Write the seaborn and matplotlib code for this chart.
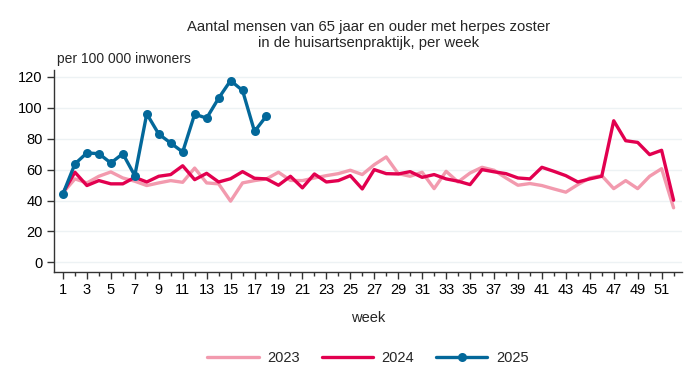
import pandas as pd
import matplotlib.pyplot as plt
import seaborn as sns
from matplotlib.ticker import MultipleLocator

weeks = list(range(1, 53))
vals_2023 = [45, 54, 51.4, 55.7, 58.5, 54.6, 52.5, 49.7, 51.4, 52.9,
             51.8, 61, 51.4, 50.8, 39.6, 51.4, 52.9, 54, 58.3, 53,
             52.9, 54.6, 56.1, 57.4, 59.6, 56.8, 63.2, 68.2, 57.4, 55.7,
             58.3, 47.7, 58.9, 52, 57.8, 61.5, 59.6, 54.6, 49.9, 51,
             49.7, 47.5, 45.4, 50.3, 54.6, 56.1, 47.7, 52.9, 47.7, 55.7,
             60.6, 35.3]
vals_2024 = [45, 58.3, 49.7, 52.9, 50.8, 50.8, 55, 52, 55.7, 56.8,
             62.5, 53.5, 57.6, 52, 54.1, 58.7, 54.4, 54, 49.9, 55.7,
             48.2, 57.2, 52, 52.9, 56.1, 47.5, 60, 57.4, 57.2, 58.7,
             55, 56.8, 54, 52.5, 50.3, 60, 58.6, 57.4, 54.6, 54,
             61.5, 58.9, 56.1, 52, 54, 55.7, 91.6, 78.7, 77.6, 69.7,
             72.5, 40.2]
vals_2025 = [44.3, 63.7, 70.8, 70.3, 64.3, 70.3, 56.1, 96.1, 83, 77.2,
             71.4, 95.9, 93.3, 106.2, 117.6, 111.2, 84.7, 94.8]

colors = {"2023": "#F29AAE", "2024": "#E2004F", "2025": "#03689A"}

df23 = pd.DataFrame({"week": weeks, "value": vals_2023})
df24 = pd.DataFrame({"week": weeks, "value": vals_2024})
df25 = pd.DataFrame({"week": weeks[:len(vals_2025)], "value": vals_2025})

sns.set_style("ticks")
plt.rcParams["font.family"] = ["Liberation Sans", "DejaVu Sans"]

fig = plt.figure(figsize=(6.92, 3.78), dpi=100)
ax = fig.add_axes([0.078, 0.281, 0.9075, 0.534])

sns.lineplot(data=df23, x="week", y="value", color=colors["2023"], lw=2.4, label="2023", ax=ax)
sns.lineplot(data=df24, x="week", y="value", color=colors["2024"], lw=2.4, label="2024", ax=ax)
sns.lineplot(data=df25, x="week", y="value", color=colors["2025"], lw=2.4, marker="o",
             markersize=6.5, markeredgewidth=0, label="2025", ax=ax)

ax.set_xlim(0.25, 52.7)
ax.set_ylim(-6.1, 124.5)
ax.set_yticks(range(0, 121, 20))
ax.set_xticks(range(1, 53, 2))
ax.xaxis.set_minor_locator(MultipleLocator(1))
ax.grid(axis="y", color="#EDF2F4", lw=1)
ax.set_axisbelow(True)

for s in ["top", "right"]:
    ax.spines[s].set_visible(False)
for s in ["left", "bottom"]:
    ax.spines[s].set_color("#333333")
    ax.spines[s].set_linewidth(1)

ax.tick_params(axis="both", which="major", direction="out", length=5, width=1,
               color="#333333", labelsize=10.5, labelcolor="black", pad=3,
               bottom=True, left=True)
ax.tick_params(axis="x", which="minor", direction="out", length=3, width=1,
               color="#333333", bottom=True)
ax.tick_params(axis="y", which="minor", length=0)

ax.set_xlabel("week", fontsize=10.5, labelpad=10)
ax.set_ylabel("")
ax.text(0.005, 1.02, "per 100 000 inwoners", transform=ax.transAxes, fontsize=10, ha="left", va="bottom")

fig.text(0.532, 0.908, "Aantal mensen van 65 jaar en ouder met herpes zoster\nin de huisartsenpraktijk, per week",
         ha="center", va="center", fontsize=10.7, linespacing=1.15)

ax.legend(loc="center", bbox_to_anchor=(0.5, -0.427), ncol=3, frameon=False,
          fontsize=10.5, handlelength=3.5, columnspacing=1.5, handletextpad=0.6)

fig.savefig("out.png", dpi=100)
plt.close(fig)
